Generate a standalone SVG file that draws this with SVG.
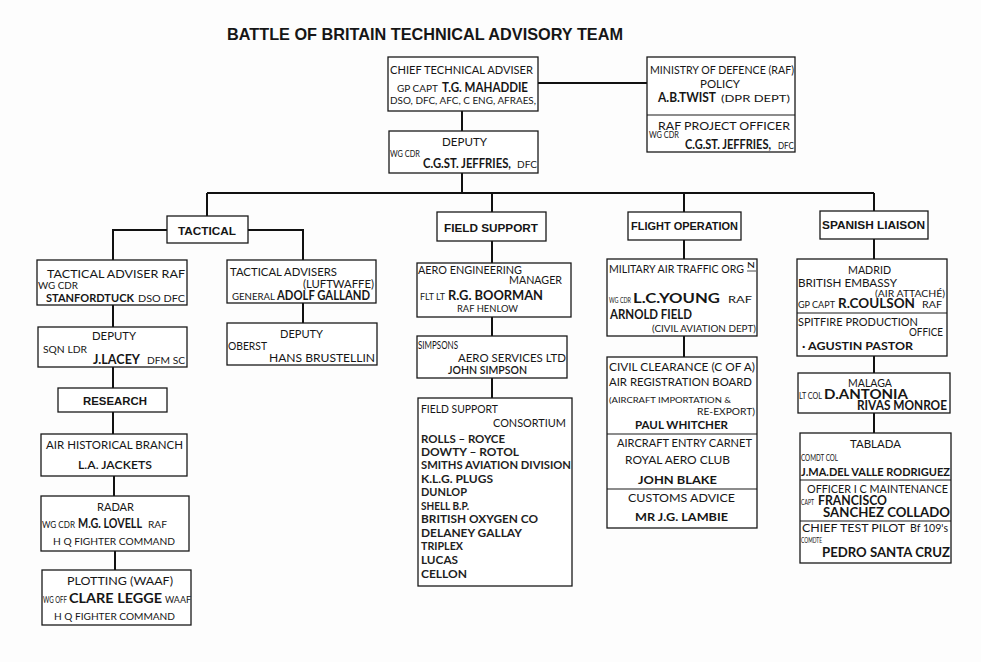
<svg xmlns="http://www.w3.org/2000/svg" width="981" height="662" viewBox="0 0 981 662">
<style>
.bg{fill:#fdfdfd}
.box{fill:#fff;stroke:#1a1a1a;stroke-width:1.3}
.div{stroke:#1a1a1a;stroke-width:1.2}
.c{fill:none;stroke:#111;stroke-width:2}
text{font-family:Lato,"Open Sans","DejaVu Sans",sans-serif;fill:#161616}
.n{font-size:11.5px}
.sm{font-size:9px}
.b{font-size:12.5px;font-weight:bold}
.li{font-size:12px;font-weight:bold;fill:#1e1e1e}
.h{font-family:"Liberation Sans",Arial,sans-serif;font-size:11.5px;font-weight:bold}
.title{font-family:"Liberation Sans",Arial,sans-serif;font-size:16.5px;font-weight:bold}
</style>
<rect class="bg" x="0" y="0" width="981" height="662"/>
<text class="title" x="227" y="40" textLength="396" lengthAdjust="spacingAndGlyphs">BATTLE OF BRITAIN TECHNICAL ADVISORY TEAM</text>

<g id="connectors">
<path class="c" d="M538 83H647"/>
<path class="c" d="M462 111V131"/>
<path class="c" d="M462 173V193"/>
<path class="c" d="M207 193H874"/>
<path class="c" d="M207 193V216"/>
<path class="c" d="M492 193V212"/>
<path class="c" d="M684 193V212"/>
<path class="c" d="M874 193V211"/>
<path class="c" d="M167 230H113V260"/>
<path class="c" d="M248 230H303V260"/>
<path class="c" d="M113 305V327"/>
<path class="c" d="M113 367V388"/>
<path class="c" d="M113 412V434"/>
<path class="c" d="M114 476V496"/>
<path class="c" d="M115 551V570"/>
<path class="c" d="M303 303V323"/>
<path class="c" d="M492 241V263"/>
<path class="c" d="M492 317V336"/>
<path class="c" d="M492 378V398"/>
<path class="c" d="M684 240V259"/>
<path class="c" d="M684 336V357"/>
<path class="c" d="M874 239V259"/>
<path class="c" d="M874 356V373"/>
<path class="c" d="M874 413V433"/>
</g>

<g id="chief">
<rect class="box" x="388" y="57" width="150" height="54"/>
<text class="n" x="390" y="74" textLength="143" lengthAdjust="spacingAndGlyphs">CHIEF TECHNICAL ADVISER</text>
<text class="sm" x="397" y="92" textLength="41" lengthAdjust="spacingAndGlyphs">GP CAPT</text>
<text class="b" style="font-size:13.5px" x="442" y="92" textLength="86" lengthAdjust="spacingAndGlyphs">T.G. MAHADDIE</text>
<text class="n" style="font-size:10px" x="390" y="104" textLength="146" lengthAdjust="spacingAndGlyphs">DSO, DFC, AFC, C ENG, AFRAES,</text>
</g>

<g id="ministry">
<rect class="box" x="647" y="57" width="148" height="95"/>
<text class="n" x="650" y="74" textLength="144" lengthAdjust="spacingAndGlyphs">MINISTRY OF DEFENCE (RAF)</text>
<text class="n" x="700" y="88" textLength="40" lengthAdjust="spacingAndGlyphs">POLICY</text>
<text class="b" x="658" y="102" textLength="58" lengthAdjust="spacingAndGlyphs">A.B.TWIST</text>
<text class="sm" x="721" y="102" textLength="69" lengthAdjust="spacingAndGlyphs">(DPR DEPT)</text>
<line class="div" x1="647" y1="115" x2="795" y2="115"/>
<text class="n" x="658" y="130" textLength="132" lengthAdjust="spacingAndGlyphs">RAF PROJECT OFFICER</text>
<text class="sm" x="649" y="138" textLength="30" lengthAdjust="spacingAndGlyphs">WG CDR</text>
<text class="b" x="685" y="149" textLength="86" lengthAdjust="spacingAndGlyphs">C.G.ST. JEFFRIES,</text>
<text class="sm" x="778" y="149" textLength="16" lengthAdjust="spacingAndGlyphs">DFC</text>
</g>

<g id="deputy">
<rect class="box" x="389" y="131" width="149" height="42"/>
<text class="n" x="442" y="146" textLength="45" lengthAdjust="spacingAndGlyphs">DEPUTY</text>
<text class="sm" x="390" y="157" textLength="30" lengthAdjust="spacingAndGlyphs">WG CDR</text>
<text class="b" x="423" y="168" textLength="88" lengthAdjust="spacingAndGlyphs">C.G.ST. JEFFRIES,</text>
<text class="sm" x="517" y="168" textLength="20" lengthAdjust="spacingAndGlyphs">DFC</text>
</g>

<g id="tactical">
<rect class="box" x="167" y="216" width="81" height="27"/>
<text class="h" x="178" y="235" textLength="58" lengthAdjust="spacingAndGlyphs">TACTICAL</text>
</g>
<g id="field-support">
<rect class="box" x="437" y="212" width="109" height="29"/>
<text class="h" x="444" y="232" textLength="94" lengthAdjust="spacingAndGlyphs">FIELD SUPPORT</text>
</g>
<g id="flight-operation">
<rect class="box" x="628" y="212" width="113" height="28"/>
<text class="h" x="631" y="230" textLength="107" lengthAdjust="spacingAndGlyphs">FLIGHT OPERATION</text>
</g>
<g id="spanish-liaison">
<rect class="box" x="820" y="211" width="108" height="28"/>
<text class="h" x="822" y="229" textLength="103" lengthAdjust="spacingAndGlyphs">SPANISH  LIAISON</text>
</g>

<g id="tactical-adviser-raf">
<rect class="box" x="37" y="260" width="150" height="45"/>
<text class="n" x="47" y="278" textLength="138" lengthAdjust="spacingAndGlyphs">TACTICAL  ADVISER RAF</text>
<text class="sm" x="38" y="289" textLength="40" lengthAdjust="spacingAndGlyphs">WG CDR</text>
<text class="b" style="font-size:12px" x="46" y="302" textLength="88" lengthAdjust="spacingAndGlyphs">STANFORDTUCK</text>
<text class="sm" style="font-size:9.5px" x="138" y="302" textLength="47" lengthAdjust="spacingAndGlyphs">DSO DFC</text>
</g>

<g id="deputy-raf">
<rect class="box" x="38" y="327" width="149" height="40"/>
<text class="n" x="92" y="340" textLength="44" lengthAdjust="spacingAndGlyphs">DEPUTY</text>
<text class="sm" x="43" y="353" textLength="44" lengthAdjust="spacingAndGlyphs">SQN  LDR</text>
<text class="b" x="93" y="364" textLength="47" lengthAdjust="spacingAndGlyphs">J.LACEY</text>
<text class="sm" x="147" y="364" textLength="38" lengthAdjust="spacingAndGlyphs">DFM SC</text>
</g>

<g id="research">
<rect class="box" x="58" y="388" width="109" height="24"/>
<text class="h" x="83" y="405" textLength="64" lengthAdjust="spacingAndGlyphs">RESEARCH</text>
</g>

<g id="air-historical-branch">
<rect class="box" x="41" y="434" width="146" height="42"/>
<text class="n" x="46" y="449" textLength="137" lengthAdjust="spacingAndGlyphs">AIR HISTORICAL BRANCH</text>
<text class="n" style="font-weight:600" x="78" y="469" textLength="74" lengthAdjust="spacingAndGlyphs">L.A. JACKETS</text>
</g>

<g id="radar">
<rect class="box" x="41" y="496" width="148" height="55"/>
<text class="n" x="97" y="511" textLength="37" lengthAdjust="spacingAndGlyphs">RADAR</text>
<text class="sm" x="42" y="528" textLength="33" lengthAdjust="spacingAndGlyphs">WG CDR</text>
<text class="b" x="78" y="528" textLength="64" lengthAdjust="spacingAndGlyphs">M.G. LOVELL</text>
<text class="sm" x="148" y="528" textLength="19" lengthAdjust="spacingAndGlyphs">RAF</text>
<text class="sm" style="font-size:9.5px" x="53" y="545" textLength="122" lengthAdjust="spacingAndGlyphs">H Q  FIGHTER  COMMAND</text>
</g>

<g id="plotting">
<rect class="box" x="42" y="570" width="149" height="55"/>
<text class="n" x="67" y="585" textLength="106" lengthAdjust="spacingAndGlyphs">PLOTTING (WAAF)</text>
<text class="sm" x="43" y="603" textLength="24" lengthAdjust="spacingAndGlyphs">WG OFF</text>
<text class="b" x="69" y="603" textLength="93" lengthAdjust="spacingAndGlyphs">CLARE LEGGE</text>
<text class="sm" x="165" y="603" textLength="26" lengthAdjust="spacingAndGlyphs">WAAF</text>
<text class="sm" style="font-size:9.5px" x="54" y="620" textLength="121" lengthAdjust="spacingAndGlyphs">H Q  FIGHTER  COMMAND</text>
</g>

<g id="tactical-advisers-luftwaffe">
<rect class="box" x="227" y="260" width="149" height="43"/>
<text class="n" x="230" y="276" textLength="107" lengthAdjust="spacingAndGlyphs">TACTICAL ADVISERS</text>
<text class="n" x="303" y="288" textLength="71" lengthAdjust="spacingAndGlyphs">(LUFTWAFFE)</text>
<text class="sm" x="232" y="300" textLength="43" lengthAdjust="spacingAndGlyphs">GENERAL</text>
<text class="b" x="277" y="300" textLength="93" lengthAdjust="spacingAndGlyphs">ADOLF GALLAND</text>
</g>

<g id="deputy-luftwaffe">
<rect class="box" x="227" y="323" width="150" height="42"/>
<text class="n" x="280" y="338" textLength="43" lengthAdjust="spacingAndGlyphs">DEPUTY</text>
<text class="n" x="228" y="350" textLength="39" lengthAdjust="spacingAndGlyphs">OBERST</text>
<text class="n" x="269" y="362" textLength="106" lengthAdjust="spacingAndGlyphs">HANS  BRUSTELLIN</text>
</g>

<g id="aero-engineering-manager">
<rect class="box" x="417" y="263" width="154" height="54"/>
<text class="n" x="418" y="274" textLength="104" lengthAdjust="spacingAndGlyphs">AERO ENGINEERING</text>
<text class="n" x="509" y="284" textLength="53" lengthAdjust="spacingAndGlyphs">MANAGER</text>
<text class="sm" x="420" y="300" textLength="25" lengthAdjust="spacingAndGlyphs">FLT LT</text>
<text class="b" x="448" y="300" textLength="95" lengthAdjust="spacingAndGlyphs">R.G. BOORMAN</text>
<text class="sm" x="457" y="312" textLength="61" lengthAdjust="spacingAndGlyphs">RAF  HENLOW</text>
</g>

<g id="simpsons">
<rect class="box" x="417" y="336" width="150" height="42"/>
<text class="n" x="418" y="349" textLength="40" lengthAdjust="spacingAndGlyphs">SIMPSONS</text>
<text class="n" x="458" y="362" textLength="108" lengthAdjust="spacingAndGlyphs">AERO  SERVICES LTD</text>
<text class="n" style="font-weight:600" x="448" y="374" textLength="79" lengthAdjust="spacingAndGlyphs">JOHN  SIMPSON</text>
</g>

<g id="field-support-consortium">
<rect class="box" x="418" y="398" width="154" height="188"/>
<text class="n" x="421" y="413" textLength="77" lengthAdjust="spacingAndGlyphs">FIELD SUPPORT</text>
<text class="n" x="493" y="427" textLength="73" lengthAdjust="spacingAndGlyphs">CONSORTIUM</text>
<text class="li" x="421" y="443" textLength="84" lengthAdjust="spacingAndGlyphs">ROLLS – ROYCE</text>
<text class="li" x="421" y="456" textLength="98" lengthAdjust="spacingAndGlyphs">DOWTY –  ROTOL</text>
<text class="li" x="421" y="469" textLength="150" lengthAdjust="spacingAndGlyphs">SMITHS AVIATION DIVISION</text>
<text class="li" x="421" y="483" textLength="72" lengthAdjust="spacingAndGlyphs">K.L.G.  PLUGS</text>
<text class="li" x="421" y="496" textLength="46" lengthAdjust="spacingAndGlyphs">DUNLOP</text>
<text class="li" x="421" y="510" textLength="48" lengthAdjust="spacingAndGlyphs">SHELL B.P.</text>
<text class="li" x="421" y="523" textLength="117" lengthAdjust="spacingAndGlyphs">BRITISH OXYGEN CO</text>
<text class="li" x="421" y="537" textLength="101" lengthAdjust="spacingAndGlyphs">DELANEY  GALLAY</text>
<text class="li" x="421" y="550" textLength="42" lengthAdjust="spacingAndGlyphs">TRIPLEX</text>
<text class="li" x="421" y="564" textLength="37" lengthAdjust="spacingAndGlyphs">LUCAS</text>
<text class="li" x="421" y="578" textLength="46" lengthAdjust="spacingAndGlyphs">CELLON</text>
</g>

<g id="military-air-traffic">
<rect class="box" x="607" y="259" width="150" height="77"/>
<text class="n" x="609" y="273" textLength="135" lengthAdjust="spacingAndGlyphs">MILITARY AIR TRAFFIC ORG</text>
<text class="sm" style="font-size:7px" x="747" y="268" textLength="8" lengthAdjust="spacingAndGlyphs">N</text>
<line class="div" style="stroke-width:0.8" x1="747" y1="271" x2="756" y2="271"/>
<text class="sm" style="font-size:8px" x="609" y="303" textLength="22" lengthAdjust="spacingAndGlyphs">WG CDR</text>
<text class="b" style="font-size:13.5px" x="633" y="303" textLength="87" lengthAdjust="spacingAndGlyphs">L.C.YOUNG</text>
<text class="sm" x="728" y="303" textLength="24" lengthAdjust="spacingAndGlyphs">RAF</text>
<text class="b" x="610" y="319" textLength="82" lengthAdjust="spacingAndGlyphs">ARNOLD  FIELD</text>
<text class="sm" style="font-size:9.5px" x="652" y="332" textLength="104" lengthAdjust="spacingAndGlyphs">(CIVIL AVIATION DEPT)</text>
</g>

<g id="civil-clearance">
<rect class="box" x="607" y="357" width="150" height="171"/>
<text class="n" style="font-size:12px" x="609" y="371" textLength="146" lengthAdjust="spacingAndGlyphs">CIVIL CLEARANCE  (C OF A)</text>
<text class="n" style="font-size:12px" x="609" y="386" textLength="143" lengthAdjust="spacingAndGlyphs">AIR REGISTRATION BOARD</text>
<text class="sm" style="font-size:8px" x="609" y="403" textLength="122" lengthAdjust="spacingAndGlyphs">(AIRCRAFT IMPORTATION  &amp;</text>
<text class="sm" x="697" y="415" textLength="58" lengthAdjust="spacingAndGlyphs">RE-EXPORT)</text>
<text class="b" style="font-size:11.5px" x="635" y="429" textLength="93" lengthAdjust="spacingAndGlyphs">PAUL  WHITCHER</text>
<line class="div" x1="607" y1="434" x2="757" y2="434"/>
<text class="n" x="617" y="447" textLength="135" lengthAdjust="spacingAndGlyphs">AIRCRAFT ENTRY CARNET</text>
<text class="n" x="625" y="464" textLength="105" lengthAdjust="spacingAndGlyphs">ROYAL  AERO  CLUB</text>
<text class="b" style="font-size:11.5px" x="638" y="484" textLength="79" lengthAdjust="spacingAndGlyphs">JOHN   BLAKE</text>
<line class="div" x1="607" y1="489" x2="757" y2="489"/>
<text class="n" x="628" y="502" textLength="107" lengthAdjust="spacingAndGlyphs">CUSTOMS   ADVICE</text>
<text class="b" style="font-size:11.5px" x="635" y="521" textLength="93" lengthAdjust="spacingAndGlyphs">MR  J.G. LAMBIE</text>
</g>

<g id="madrid">
<rect class="box" x="797" y="259" width="150" height="97"/>
<text class="n" x="848" y="274" textLength="43" lengthAdjust="spacingAndGlyphs">MADRID</text>
<text class="n" x="798" y="287" textLength="99" lengthAdjust="spacingAndGlyphs">BRITISH  EMBASSY</text>
<text class="sm" x="875" y="297" textLength="70" lengthAdjust="spacingAndGlyphs">(AIR ATTACHÉ)</text>
<text class="sm" x="798" y="308" textLength="37" lengthAdjust="spacingAndGlyphs">GP CAPT</text>
<text class="b" style="font-size:13px" x="838" y="308" textLength="77" lengthAdjust="spacingAndGlyphs">R.COULSON</text>
<text class="sm" x="922" y="308" textLength="20" lengthAdjust="spacingAndGlyphs">RAF</text>
<line class="div" x1="797" y1="313" x2="947" y2="313"/>
<text class="n" x="798" y="326" textLength="120" lengthAdjust="spacingAndGlyphs">SPITFIRE PRODUCTION</text>
<text class="n" x="909" y="336" textLength="34" lengthAdjust="spacingAndGlyphs">OFFICE</text>
<text class="b" style="font-size:12px" x="802" y="350" textLength="111" lengthAdjust="spacingAndGlyphs">· AGUSTIN  PASTOR</text>
</g>

<g id="malaga">
<rect class="box" x="798" y="373" width="152" height="40"/>
<text class="n" x="848" y="387" textLength="44" lengthAdjust="spacingAndGlyphs">MALAGA</text>
<text class="sm" x="799" y="399" textLength="23" lengthAdjust="spacingAndGlyphs">LT COL</text>
<text class="b" x="824" y="399" textLength="84" lengthAdjust="spacingAndGlyphs">D.ANTONIA</text>
<text class="b" x="857" y="410" textLength="90" lengthAdjust="spacingAndGlyphs">RIVAS MONROE</text>
</g>

<g id="tablada">
<rect class="box" x="800" y="433" width="151" height="130"/>
<text class="n" x="850" y="448" textLength="51" lengthAdjust="spacingAndGlyphs">TABLADA</text>
<text class="sm" x="801" y="461" textLength="37" lengthAdjust="spacingAndGlyphs">COMDT COL</text>
<text class="b" style="font-size:11.5px" x="801" y="476" textLength="149" lengthAdjust="spacingAndGlyphs">J.MA.DEL VALLE RODRIGUEZ</text>
<line class="div" x1="800" y1="480" x2="951" y2="480"/>
<text class="n" x="807" y="493" textLength="141" lengthAdjust="spacingAndGlyphs">OFFICER I C MAINTENANCE</text>
<text class="sm" style="font-size:8px" x="801" y="505" textLength="13" lengthAdjust="spacingAndGlyphs">CAPT</text>
<text class="b" x="818" y="505" textLength="69" lengthAdjust="spacingAndGlyphs">FRANCISCO</text>
<text class="b" x="823" y="517" textLength="127" lengthAdjust="spacingAndGlyphs">SANCHEZ  COLLADO</text>
<line class="div" x1="800" y1="521" x2="951" y2="521"/>
<text class="n" x="802" y="532" textLength="103" lengthAdjust="spacingAndGlyphs">CHIEF TEST PILOT</text>
<text class="n" x="910" y="532" textLength="38" lengthAdjust="spacingAndGlyphs">Bf 109's</text>
<text class="sm" style="font-size:8px" x="801" y="543" textLength="21" lengthAdjust="spacingAndGlyphs">COMDTE</text>
<text class="b" x="822" y="557" textLength="128" lengthAdjust="spacingAndGlyphs">PEDRO SANTA CRUZ</text>
</g>
</svg>
